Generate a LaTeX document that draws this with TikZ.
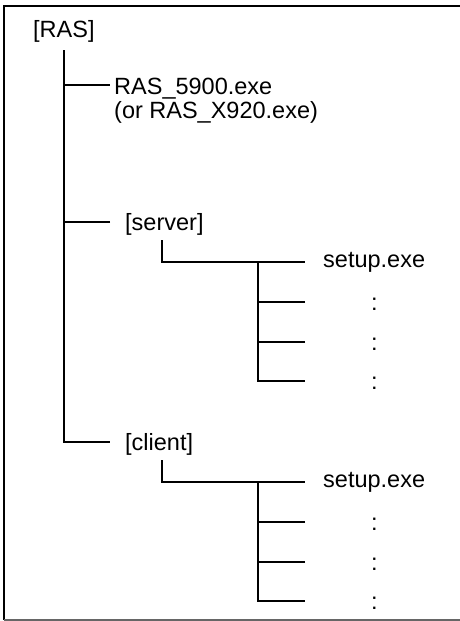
\documentclass[tikz,border=0pt]{standalone}
\usepackage{fontspec}
\setmainfont{Liberation Sans}
\begin{document}
\begin{tikzpicture}[x=1pt,y=1pt,
  lbl/.style={anchor=base west,inner sep=0pt,font=\fontsize{23.5}{24}\selectfont},
  conn/.style={line width=2pt,black,line cap=butt},
  frame/.style={line width=2pt,black},
  bottomframe/.style={line width=1.4pt,black!60}]
\useasboundingbox (0,0) rectangle (460,-621);
% frame (open on the right)
\draw[frame] (460,-6) -- (4,-6) -- (4,-620);
\draw[bottomframe] (4,-620) -- (460,-620);

% labels
\node[lbl] (ras) at (33,-37) {[RAS]};
\node[lbl] (exe1) at (114,-94) {RAS\_5900.exe};
\node[lbl] (exe2) at (114,-118) {(or RAS\_X920.exe)};
\node[lbl] (sv) at (125,-230) {[server]};
\node[lbl] (s1) at (323,-267) {setup.exe};
\node[lbl] (sc1) at (371,-310) {:};
\node[lbl] (sc2) at (371,-350) {:};
\node[lbl] (sc3) at (371,-389) {:};
\node[lbl] (cl) at (125,-450) {[client]};
\node[lbl] (c1) at (323,-487) {setup.exe};
\node[lbl] (cc1) at (371,-530) {:};
\node[lbl] (cc2) at (371,-570) {:};
\node[lbl] (cc3) at (371,-609) {:};

% junction points
\coordinate (t0) at (64,-50);
\coordinate (svj) at (162,-240);
\coordinate (svk) at (258,-262);
\coordinate (clj) at (162,-460);
\coordinate (clk) at (258,-482);

% main trunk
\draw[conn] (t0) |- ([shift={(-15,8)}]cl.base west);
\draw[conn] (t0 |- exe1.base west) ++(0,9) -- ([shift={(-4,9)}]exe1.base west);
\draw[conn] ([shift={(-15,8)}]sv.base west) -- +(-46,0);

% server subtree
\draw[conn] (svj) |- ([shift={(-18,5)}]s1.base west);
\draw[conn] (svk) |- ([shift={(-66,8)}]sc3.base west);
\draw[conn] ([shift={(-66,8)}]sc1.base west) -- +(-47,0);
\draw[conn] ([shift={(-66,8)}]sc2.base west) -- +(-47,0);

% client subtree
\draw[conn] (clj) |- ([shift={(-18,5)}]c1.base west);
\draw[conn] (clk) |- ([shift={(-66,8)}]cc3.base west);
\draw[conn] ([shift={(-66,8)}]cc1.base west) -- +(-47,0);
\draw[conn] ([shift={(-66,8)}]cc2.base west) -- +(-47,0);
\end{tikzpicture}
\end{document}
